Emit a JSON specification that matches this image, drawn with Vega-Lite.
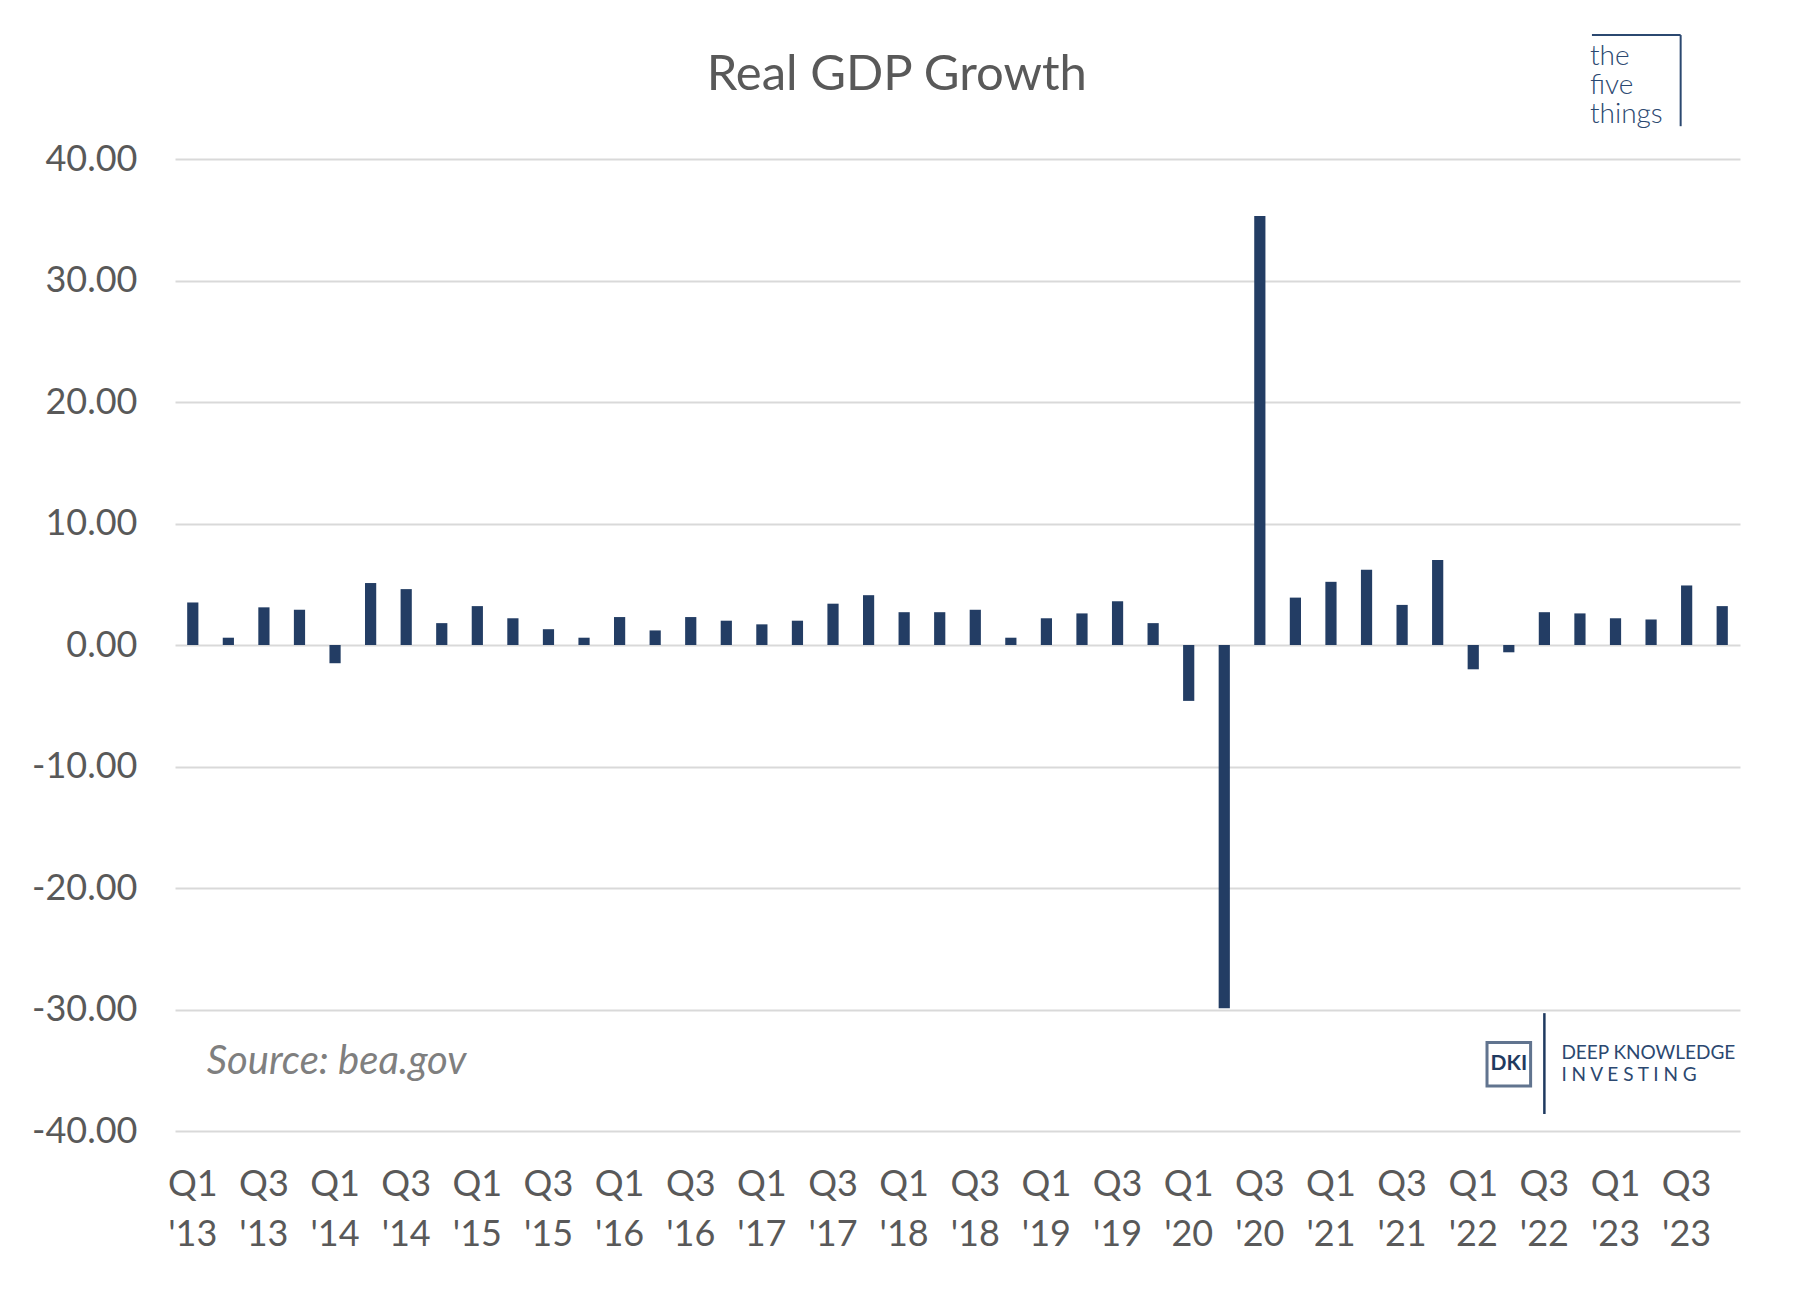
{
  "$schema": "https://vega.github.io/schema/vega-lite/v6.json",
  "width": 1565,
  "height": 972,
  "autosize": {"type": "none"},
  "padding": {"left": 175, "top": 159, "right": 57, "bottom": 159},
  "background": "white",
  "title": {"text": "Real GDP Growth", "fontSize": 49, "font": "Lato", "fontWeight": "normal", "color": "#595959", "anchor": "middle", "frame": "bounds", "offset": 0, "dy": 66, "dx": -27},
  "config": {"view": {"stroke": null}, "font": "Lato"},
  "data": {"values": [
    {"q": "Q1 '13", "g": 3.5}, {"q": "Q2 '13", "g": 0.6}, {"q": "Q3 '13", "g": 3.1}, {"q": "Q4 '13", "g": 2.9},
    {"q": "Q1 '14", "g": -1.5}, {"q": "Q2 '14", "g": 5.1}, {"q": "Q3 '14", "g": 4.6}, {"q": "Q4 '14", "g": 1.8},
    {"q": "Q1 '15", "g": 3.2}, {"q": "Q2 '15", "g": 2.2}, {"q": "Q3 '15", "g": 1.3}, {"q": "Q4 '15", "g": 0.6},
    {"q": "Q1 '16", "g": 2.3}, {"q": "Q2 '16", "g": 1.2}, {"q": "Q3 '16", "g": 2.3}, {"q": "Q4 '16", "g": 2.0},
    {"q": "Q1 '17", "g": 1.7}, {"q": "Q2 '17", "g": 2.0}, {"q": "Q3 '17", "g": 3.4}, {"q": "Q4 '17", "g": 4.1},
    {"q": "Q1 '18", "g": 2.7}, {"q": "Q2 '18", "g": 2.7}, {"q": "Q3 '18", "g": 2.9}, {"q": "Q4 '18", "g": 0.6},
    {"q": "Q1 '19", "g": 2.2}, {"q": "Q2 '19", "g": 2.6}, {"q": "Q3 '19", "g": 3.6}, {"q": "Q4 '19", "g": 1.8},
    {"q": "Q1 '20", "g": -4.6}, {"q": "Q2 '20", "g": -29.9}, {"q": "Q3 '20", "g": 35.3}, {"q": "Q4 '20", "g": 3.9},
    {"q": "Q1 '21", "g": 5.2}, {"q": "Q2 '21", "g": 6.2}, {"q": "Q3 '21", "g": 3.3}, {"q": "Q4 '21", "g": 7.0},
    {"q": "Q1 '22", "g": -2.0}, {"q": "Q2 '22", "g": -0.6}, {"q": "Q3 '22", "g": 2.7}, {"q": "Q4 '22", "g": 2.6},
    {"q": "Q1 '23", "g": 2.2}, {"q": "Q2 '23", "g": 2.1}, {"q": "Q3 '23", "g": 4.9}, {"q": "Q4 '23", "g": 3.2}
  ]},
  "encoding": {
    "x": {"field": "q", "type": "nominal", "sort": null, "title": null,
      "scale": {"paddingInner": 0.685, "paddingOuter": 0.3425},
      "axis": {"labelExpr": "(indexof(datum.value,'Q2')>=0 || indexof(datum.value,'Q4')>=0) ? '' : split(datum.value,' ')",
        "labelAngle": 0, "labelFontSize": 36, "labelColor": "#595959", "labelFont": "Lato", "labelPadding": 36, "labelLineHeight": 50,
        "labelOverlap": false, "ticks": false, "domain": false, "grid": false, "labelBaseline": "top"}},
    "y": {"type": "quantitative", "title": null,
      "scale": {"domain": [-40, 40], "nice": false, "zero": false},
      "axis": {"values": [-40, -30, -20, -10, 0, 10, 20, 30, 40], "format": ".2f", "labelExpr": "replace(datum.label, '\u2212', '-')", "labelFontSize": 36, "labelColor": "#595959", "labelFont": "Lato",
        "labelPadding": 38, "ticks": false, "domain": false, "gridColor": "#d9d9d9", "gridWidth": 2}}
  },
  "layer": [
    {"mark": {"type": "bar", "color": "#233d64"}, "encoding": {"y": {"field": "g", "type": "quantitative"}}},
    {"data": {"values": [{}]},
     "mark": {"type": "text", "text": "Source: bea.gov", "align": "left", "baseline": "middle", "font": "Lato", "fontSize": 40, "fontStyle": "italic", "color": "#7f7f7f", "dx": 14},
     "encoding": {"x": {"datum": "Q1 '13"}, "y": {"datum": -34.3}}},
    {"data": {"values": [{}]},
     "mark": {"type": "text", "text": "the\nfive\nthings", "lineBreak": "\n", "lineHeight": 29, "align": "left", "baseline": "middle", "font": "Lato", "fontSize": 28, "fontWeight": 300, "color": "#2b4870", "dx": 10},
     "encoding": {"x": {"datum": "Q4 '22"}, "y": {"datum": 48.4}}},
    {"data": {"values": [{}]},
     "mark": {"type": "rule", "color": "#2b4870", "strokeWidth": 2, "xOffset": 12, "x2Offset": -6},
     "encoding": {"x": {"datum": "Q4 '22"}, "x2": {"datum": "Q3 '23"}, "y": {"datum": 50.2}}},
    {"data": {"values": [{}]},
     "mark": {"type": "rule", "color": "#2b4870", "strokeWidth": 2, "xOffset": -6},
     "encoding": {"x": {"datum": "Q3 '23"}, "y": {"datum": 50.2}, "y2": {"datum": 42.7}}},
    {"data": {"values": [{}]},
     "mark": {"type": "point", "shape": "square", "filled": false, "size": 1900, "strokeWidth": 3, "color": "#1f3a60"},
     "encoding": {"x": {"datum": "Q2 '22"}, "y": {"datum": -34.5}}},
    {"data": {"values": [{}]},
     "mark": {"type": "text", "text": "DKI", "align": "center", "baseline": "middle", "font": "Lato", "fontSize": 21, "fontWeight": "bold", "color": "#1f3a60"},
     "encoding": {"x": {"datum": "Q2 '22"}, "y": {"datum": -34.5}}},
    {"data": {"values": [{}]},
     "mark": {"type": "rule", "color": "#1f3a60", "strokeWidth": 2.5},
     "encoding": {"x": {"datum": "Q3 '22"}, "y": {"datum": -30.3}, "y2": {"datum": -38.6}}},
    {"data": {"values": [{}]},
     "mark": {"type": "text", "text": "DEEP KNOWLEDGE", "align": "left", "baseline": "middle", "font": "Lato", "fontSize": 19, "fontWeight": "normal", "color": "#2b4870", "dx": 17},
     "encoding": {"x": {"datum": "Q3 '22"}, "y": {"datum": -33.6}}},
    {"data": {"values": [{}]},
     "mark": {"type": "text", "text": "I    N    V    E    S    T    I    N    G", "align": "left", "baseline": "middle", "font": "Lato", "fontSize": 19, "fontWeight": "normal", "color": "#2b4870", "dx": 17},
     "encoding": {"x": {"datum": "Q3 '22"}, "y": {"datum": -35.4}}}
  ]
}
